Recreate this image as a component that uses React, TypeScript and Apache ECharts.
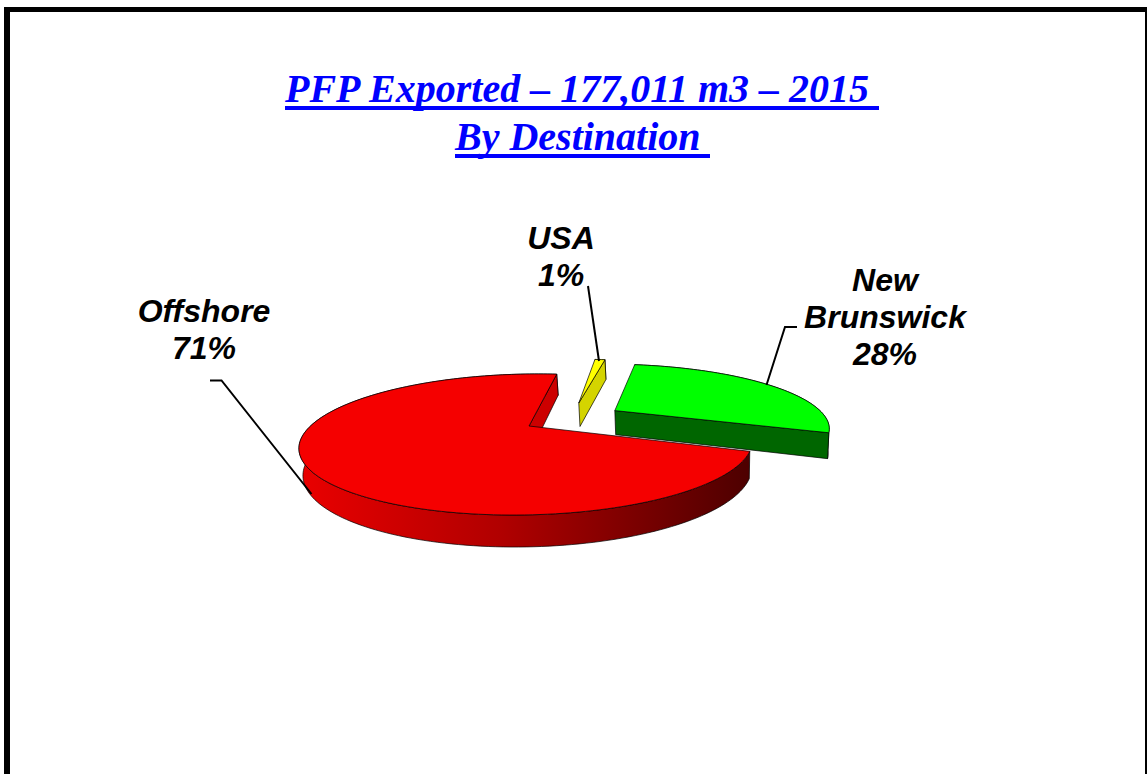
import React, { useEffect, useRef } from "react";
import * as echarts from "echarts";

const titleLines = ["PFP Exported – 177,011 m3 – 2015 ", "By Destination "];
const categories = ["Offshore", "USA", "New Brunswick"];
const shares = [71, 1, 28];

// Look of each slice, separate from the data
const topColors = ["#f50000", "#ffff00", "#00ff00"];
const edgeColors = ["#cc0000", "#d4d400", "#006600"];
const explode = [[0, 0], [0.23, 0.385], [0.405, 0.25]];
const labelAnchors = [[204, 292], [561, 219], [885, 261]];
const leaders = [
  [[210, 380.5], [221.5, 380.5], [311.5, 494]],
  [[588, 286], [599, 361]],
  [[797, 327], [785, 327], [766.5, 385]],
];

// Tilted-plane projection of the pie
const AX = 529, AY = 426, RX = 218.5, RY = 65.7, K = 0.262, SH = 0.18, DEPTH = 25.35, KD = 0.2076;
const START_DEG = -20.5;
const CONVERGE_X = 700, CONVERGE = 0.01;

const project = (x: number, y: number) => {
  const w = 1 + K * y;
  const X = (RX * x) / w;
  const Y = (-RY * y) / w;
  return [AX + X - SH * Y, AY + Y];
};
const drop = (y: number) => DEPTH / (1 + KD * y);

const total = shares.reduce((a, b) => a + b, 0);

function renderSlice(params: any, api: any) {
  const i = params.dataIndex;
  const before = shares.slice(0, i).reduce((a, b) => a + b, 0);
  const a0 = START_DEG - (before / total) * 360;
  const a1 = a0 - (api.value(0) / total) * 360;
  const [ex, ey] = explode[i];
  const steps = Math.max(2, Math.ceil(Math.abs(a1 - a0) / 1.5));
  const rim: number[][] = [];
  for (let s = 0; s <= steps; s++) {
    const a = ((a0 + ((a1 - a0) * s) / steps) * Math.PI) / 180;
    rim.push([ex + Math.cos(a), ey + Math.sin(a)]);
  }
  const top = (p: number[]) => project(p[0], p[1]);
  const low = (p: number[]) => {
    const q = project(p[0], p[1]);
    return [q[0] - (q[0] - CONVERGE_X) * CONVERGE, q[1] + drop(p[1])];
  };
  const apex = [ex, ey];
  const base = i * 10;
  const stroke = { stroke: "#000", lineWidth: 0.7 };
  const wallFill =
    i === 0
      ? {
          type: "linear", x: 0, y: 0, x2: 1, y2: 0,
          colorStops: [
            { offset: 0, color: "#ea0000" },
            { offset: 0.45, color: "#b00000" },
            { offset: 1, color: "#4d0000" },
          ],
        }
      : edgeColors[i];
  const endPoint = rim[rim.length - 1];
  const name = categories[i].split(" ");
  const pct = Math.round((api.value(0) / total) * 100);
  return {
    type: "group",
    children: [
      {
        type: "polygon", z2: base + 1,
        shape: { points: [...rim.map(top), ...rim.slice().reverse().map(low)] },
        style: { fill: wallFill, ...stroke },
      },
      {
        type: "polygon", z2: base + 2,
        shape: { points: [top(apex), top(endPoint), low(endPoint), low(apex)] },
        style: { fill: edgeColors[i], ...stroke },
      },
      {
        type: "polygon", z2: base + 3,
        shape: { points: [top(apex), ...rim.map(top)] },
        style: { fill: topColors[i], ...stroke },
      },
      {
        type: "polyline", z2: 100,
        shape: { points: leaders[i] },
        style: { stroke: "#000", lineWidth: 2, fill: "none" },
      },
      {
        type: "text", z2: 101,
        x: labelAnchors[i][0], y: labelAnchors[i][1],
        style: {
          text: [...name, `${pct}%`].join("\n"),
          fill: "#000",
          font: 'italic bold 32px "Liberation Sans", Arial, sans-serif',
          lineHeight: 37,
          align: "center",
          verticalAlign: "top",
        },
      },
    ],
  };
}

export default function App() {
  const ref = useRef<HTMLDivElement>(null);
  useEffect(() => {
    document.body.style.margin = "0";
    document.body.style.overflow = "hidden";
    const chart = echarts.init(ref.current!, undefined, { renderer: "svg" });
    const titleStyle = {
      color: "#0000ff",
      fontFamily: '"Liberation Serif", "Times New Roman", serif',
      fontStyle: "italic" as const,
      fontWeight: "bold" as const,
      fontSize: 40,
    };
    chart.setOption({
      animation: false,
      backgroundColor: "#fff",
      title: [
        { text: titleLines[0], left: 280, top: 63, textStyle: titleStyle },
        { text: titleLines[1], left: 450, top: 111, textStyle: titleStyle },
      ],
      graphic: [
        { type: "rect", silent: true, shape: { x: 4, y: 7, width: 1143, height: 5 }, style: { fill: "#000" } },
        { type: "rect", silent: true, shape: { x: 4, y: 7, width: 6, height: 767 }, style: { fill: "#000" } },
        { type: "rect", silent: true, shape: { x: 1145, y: 7, width: 2, height: 767 }, style: { fill: "#000" } },
        { type: "rect", silent: true, shape: { x: 285, y: 106, width: 594, height: 4 }, style: { fill: "#0000ff" } },
        { type: "rect", silent: true, shape: { x: 455, y: 154, width: 255, height: 4 }, style: { fill: "#0000ff" } },
      ],
      series: [
        {
          type: "custom",
          coordinateSystem: "none",
          silent: true,
          clip: false,
          renderItem: renderSlice,
          data: shares.map((v, i) => ({ name: categories[i], value: [v] })),
        },
      ],
    });
    return () => chart.dispose();
  }, []);
  return <div ref={ref} style={{ width: 1148, height: 774 }} />;
}
